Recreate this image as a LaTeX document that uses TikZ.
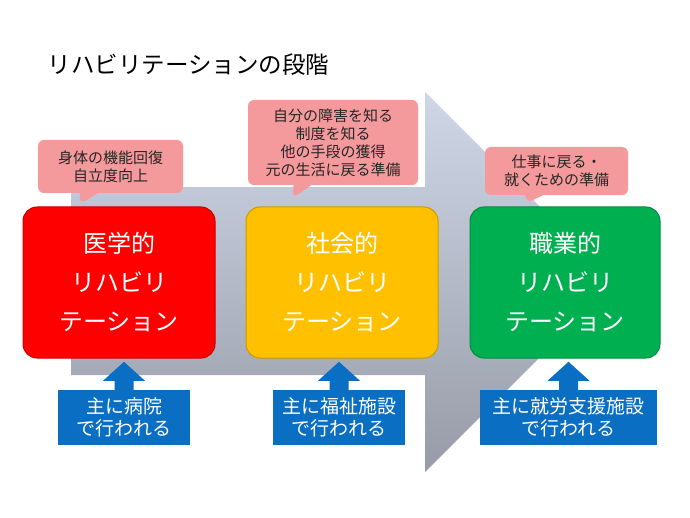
\documentclass[tikz,border=0pt]{standalone}
\usepackage{fontspec}
\newfontfamily\jp{Noto Sans CJK JP}
\usetikzlibrary{shapes.callouts}
\definecolor{stagered}{HTML}{FF0000}
\definecolor{stageyellow}{HTML}{FFC000}
\definecolor{stagegreen}{HTML}{00B050}
\definecolor{notepink}{HTML}{F59A9C}
\definecolor{placeblue}{HTML}{0A6EC2}
\definecolor{arrowtop}{HTML}{CFD7E7}
\definecolor{arrowbot}{HTML}{979BA7}
\tikzset{
  stage/.style={draw=#1!80!black, line width=1pt, fill=#1, rounded corners=14pt,
    minimum height=151pt, text=white, align=center,
    font=\jp\fontsize{24}{39}\selectfont},
  note/.style={rectangle callout, fill=notepink, rounded corners=6pt,
    callout pointer width=18pt, align=center, text=black!85,
    font=\jp\fontsize{15}{18}\selectfont},
  place/.style={fill=placeblue, minimum height=55pt, text=white, align=center,
    font=\jp\fontsize{19}{22}\selectfont}
}
\begin{document}
\begin{tikzpicture}[x=1pt,y=-1pt]
\useasboundingbox[fill=white] (0,0) rectangle (690,518);
\node[anchor=west, font=\jp\fontsize{23.5}{28}\selectfont] (title) at (44,65) {リハビリテーションの段階};
% background arrow
\shade[top color=arrowtop, bottom color=arrowbot] (71,186) -- (425,186) -- (425,92) -- (615,282) -- (425,472) -- (425,375) -- (71,375) -- cycle;
\draw[white, line width=1.5pt] (71,186) -- (424,186) -- (424,93);
% stages
\node[stage=stagered, minimum width=192pt] (med) at (119,282.5) {医学的\\リハビリ\\テーション};
\node[stage=stageyellow, minimum width=192pt] (soc) at (342,282.5) {社会的\\リハビリ\\テーション};
\node[stage=stagegreen, minimum width=190pt] (voc) at (565,282.5) {職業的\\リハビリ\\テーション};
% notes
\coordinate (tip1) at (80,204);
\coordinate (tip2) at (293,198);
\coordinate (tip3) at (527,203);
\node[note, minimum width=145pt, minimum height=53pt, callout absolute pointer={(tip1)}] (n1) at (110.5,166.5) {身体の機能回復\\自立度向上};
\node[note, minimum width=170pt, minimum height=85pt, callout absolute pointer={(tip2)}] (n2) at (333,142.5) {自分の障害を知る\\制度を知る\\他の手段の獲得\\元の生活に戻る準備};
\node[note, minimum width=143pt, minimum height=48pt, callout absolute pointer={(tip3)}] (n3) at (556.5,171) {仕事に戻る・\\就くための準備};
% places
\node[place, minimum width=132pt] (p1) at (124,417.5) {主に病院\\で行われる};
\node[place, minimum width=132pt] (p2) at (339,417.5) {主に福祉施設\\で行われる};
\node[place, minimum width=177pt] (p3) at (568.5,417.5) {主に就労支援施設\\で行われる};
\foreach \p in {p1,p2,p3}
  \fill[placeblue] ([xshift=-9.5pt,yshift=-1pt]\p.north) -- ++(0pt,10pt) -- ++(-11.5pt,0pt)
    -- ([yshift=28pt]\p.north) -- ([xshift=21pt,yshift=9pt]\p.north) -- ++(-11.5pt,0pt)
    -- ([xshift=9.5pt,yshift=-1pt]\p.north) -- cycle;
\end{tikzpicture}
\end{document}
